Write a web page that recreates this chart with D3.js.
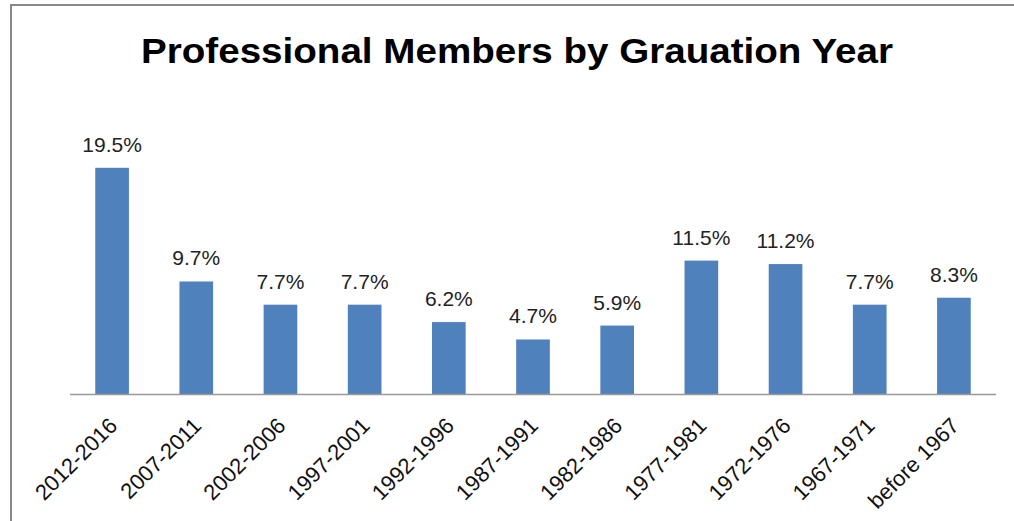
<!DOCTYPE html>
<html>
<head>
<meta charset="utf-8">
<script src="https://cdn.jsdelivr.net/npm/d3@7"></script>
<style>
	body { margin: 0; background: #fff; }
	svg { display: block; }
</style>
</head>
<body>
<div id="chart"></div>
<script>
	//Data-------------------------------------------------------------------
	var title = 'Professional Members by Grauation Year';
	var categories = ['2012-2016', '2007-2011', '2002-2006', '1997-2001', '1992-1996',
		'1987-1991', '1982-1986', '1977-1981', '1972-1976', '1967-1971', 'before 1967'];
	var shares = [19.5, 9.7, 7.7, 7.7, 6.2, 4.7, 5.9, 11.5, 11.2, 7.7, 8.3];
	var yDomain = [0, 25];

	var width = 1014,
		height = 521;
	var plot = { left: 70, right: 996, top: 104, bottom: 394 };
	var barColor = '#4F81BD';
	var font = '"Liberation Sans", Arial, sans-serif';

	var svg = d3.select('#chart').append('svg')
		.attr('width', width)
		.attr('height', height);

	//chart frame (runs off right/bottom like the screenshot)
	svg.append('rect')
		.attr('x', 11)
		.attr('y', 5)
		.attr('width', width + 20)
		.attr('height', height + 20)
		.style('fill', '#fff')
		.style('stroke', '#888')
		.style('stroke-width', 2);

	svg.append('text')
		.attr('x', 517)
		.attr('y', 63)
		.attr('text-anchor', 'middle')
		.attr('textLength', 752)
		.attr('lengthAdjust', 'spacingAndGlyphs')
		.style('font-family', font)
		.style('font-weight', 'bold')
		.style('font-size', '35px')
		.style('fill', '#000')
		.text(title);

	var x = d3.scaleBand()
		.domain(categories)
		.range([plot.left, plot.right])
		.paddingInner(0.6)
		.paddingOuter(0.3);

	var y = d3.scaleLinear()
		.domain(yDomain)
		.range([plot.bottom, plot.top]);

	var g = svg.append('g');

	//bars
	g.selectAll('rect.bar')
		.data(shares)
		.enter()
		.append('rect')
		.classed('bar', true)
		.attr('x', function (d, i) { return x(categories[i]); })
		.attr('y', function (d) { return y(d); })
		.attr('width', x.bandwidth())
		.attr('height', function (d) { return y(0) - y(d); })
		.style('fill', barColor);

	//value labels
	g.selectAll('text.val')
		.data(shares)
		.enter()
		.append('text')
		.classed('val', true)
		.attr('x', function (d, i) { return x(categories[i]) + x.bandwidth() / 2; })
		.attr('y', function (d) { return y(d) - 16; })
		.attr('text-anchor', 'middle')
		.style('font-family', font)
		.style('font-size', '21px')
		.style('fill', '#222')
		.text(function (d) { return d.toFixed(1) + '%'; });

	//x axis
	var xAxis = d3.axisBottom(x).tickSize(0).tickPadding(0);
	var ax = svg.append('g')
		.attr('transform', 'translate(0,' + plot.bottom + ')')
		.call(xAxis);
	ax.select('.domain')
		.attr('d', 'M' + plot.left + ',0.5H' + plot.right)
		.style('stroke', '#999')
		.style('stroke-width', 1.5);
	ax.selectAll('.tick text')
		.attr('text-anchor', 'end')
		.attr('dy', null)
		.attr('y', 0)
		.attr('transform', 'translate(6.5,33) rotate(-45)')
		.style('font-family', font)
		.style('font-size', '22px')
		.style('fill', '#111');
</script>
</body>
</html>
